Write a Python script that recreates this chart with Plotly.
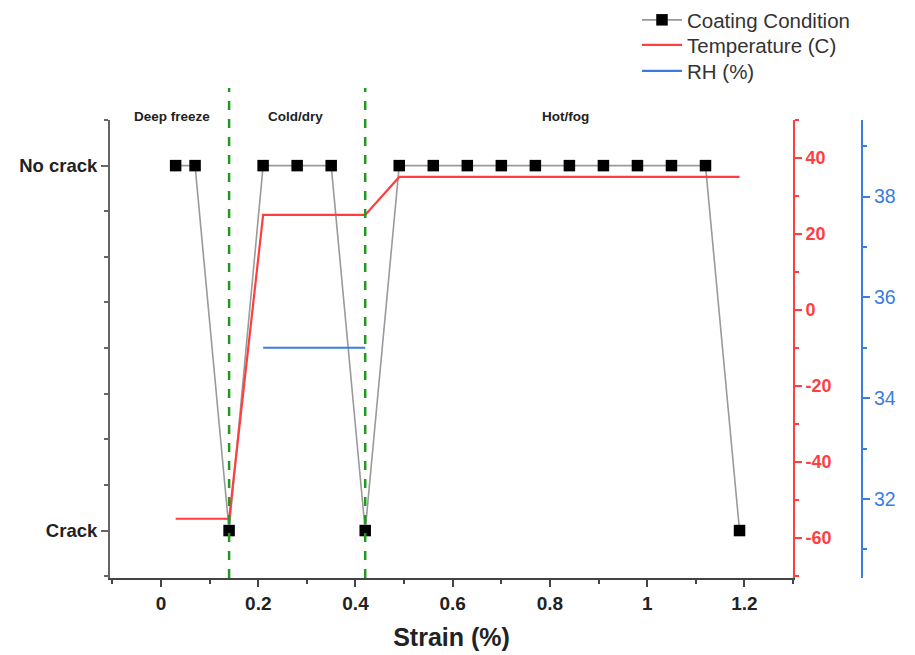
import plotly.graph_objects as go

# ---- data ----
strain = [0.03, 0.07, 0.14, 0.21, 0.28, 0.35, 0.42, 0.49, 0.56, 0.63, 0.70,
          0.77, 0.84, 0.91, 0.98, 1.05, 1.12, 1.19]
condition = [1, 1, 0, 1, 1, 1, 0, 1, 1, 1, 1, 1, 1, 1, 1, 1, 1, 0]  # 1 = No crack, 0 = Crack
cond_labels = ["Crack", "No crack"]

temp_strain = [0.03, 0.14, 0.21, 0.42, 0.49, 1.19]
temp_c = [-55, -55, 25, 25, 35, 35]
temp_ticks = [-60, -40, -20, 0, 20, 40]
temp_ticktext = ["-60", "-40", "-20", "0", "20", "40"]

rh_strain = [0.21, 0.42]
rh_pct = [35, 35]

phase_bounds = [0.14, 0.42]
phase_names = ["Deep freeze", "Cold/dry", "Hot/fog"]
phase_label_x = [0.023, 0.277, 0.832]

# ---- layout geometry (page has an 8px body margin) ----
OFF = 8
W, H = 915 - OFF, 655 - OFF
PL, PR, PT, PB = 110, 880, 120, 578      # page pixels of paper area
ml, mr, mt, mb = PL - OFF, W - (PR - OFF), PT - OFF, H - (PB - OFF)
pw = PR - PL
ph = PB - PT


def px_x(p):
    return (p - PL) / pw


def px_y(p):
    return (PB - p) / ph


x_right = px_x(793)
blue_pos = px_x(862)

FONT = "Liberation Sans, Arial, sans-serif"
RED = "#ff3f3f"
BLUE = "#3a7de0"
GREEN = "#1f9a1f"

fig = go.Figure()

fig.add_trace(go.Scatter(
    x=strain, y=condition, mode="lines+markers", name="Coating Condition",
    line=dict(color="#9a9a9a", width=1.6),
    marker=dict(symbol="square", size=11.5, color="black"),
    yaxis="y", legend="legend"))

fig.add_trace(go.Scatter(
    x=temp_strain, y=temp_c, mode="lines", name="Temperature (C)",
    line=dict(color=RED, width=2.2), yaxis="y2", legend="legend2"))

fig.add_trace(go.Scatter(
    x=rh_strain, y=rh_pct, mode="lines", name="RH (%)",
    line=dict(color=BLUE, width=2.2), yaxis="y3", legend="legend3"))

for xb in phase_bounds:
    fig.add_shape(type="line", xref="x", yref="paper", x0=xb, x1=xb,
                  y0=0, y1=px_y(88),
                  line=dict(color=GREEN, width=2.5, dash="dash"), layer="above")

for name, xl in zip(phase_names, phase_label_x):
    fig.add_annotation(x=xl, xref="x", y=px_y(117), yref="paper",
                       text=name, showarrow=False, xanchor="center", yanchor="middle",
                       font=dict(family=FONT, size=13.5, color="#222", weight="bold"))

minor_left = [i * 0.125 for i in range(-1, 10)]


def leg(row_y):
    return dict(x=px_x(637), y=px_y(row_y), xanchor="left", yanchor="middle",
                font=dict(family=FONT, size=20.5, color="#333"),
                bgcolor="rgba(0,0,0,0)", itemwidth=40)


fig.update_layout(
    width=W, height=H,
    margin=dict(l=ml, r=mr, t=mt, b=mb, autoexpand=False),
    paper_bgcolor="white", plot_bgcolor="white",
    font=dict(family=FONT, color="#222"),
    showlegend=True,
    legend=leg(20), legend2=leg(45), legend3=leg(71),
    xaxis=dict(domain=[0, x_right], range=[-0.105, 1.3], showgrid=False, zeroline=False,
               showline=True, linecolor="#444", linewidth=2, automargin=False,
               ticks="outside", ticklen=7, tickwidth=2, tickcolor="#444",
               tick0=0, dtick=0.2,
               minor=dict(dtick=0.1, tick0=0, ticks="outside", ticklen=4, tickwidth=2, tickcolor="#444"),
               tickfont=dict(family=FONT, size=19, color="#222", weight="bold"),
               title=dict(text="Strain (%)", standoff=16,
                          font=dict(family=FONT, size=25, color="#222", weight="bold"))),
    yaxis=dict(range=[-0.13, 1.125], showgrid=False, zeroline=False, automargin=False,
               showline=True, linecolor="#666", linewidth=2,
               tickvals=[0, 1], ticktext=cond_labels,
               ticks="outside", ticklen=7, tickwidth=2, tickcolor="#666",
               minor=dict(tickvals=minor_left, ticks="outside", ticklen=4, tickwidth=2, tickcolor="#666"),
               tickfont=dict(family=FONT, size=18.5, color="#222", weight="bold")),
    yaxis2=dict(range=[-70.6, 50], overlaying="y", side="right", anchor="x", automargin=False,
                showgrid=False, zeroline=False, showline=True, linecolor=RED, linewidth=2,
                ticks="outside", ticklen=7, tickwidth=2, tickcolor=RED,
                tickvals=temp_ticks, ticktext=temp_ticktext,
                minor=dict(dtick=10, tick0=0, ticks="outside", ticklen=4, tickwidth=2, tickcolor=RED),
                tickfont=dict(family=FONT, size=18, color=RED, weight="bold")),
    yaxis3=dict(range=[30.43, 39.52], overlaying="y", side="right", anchor="free",
                position=blue_pos, automargin=False,
                showgrid=False, zeroline=False, showline=True, linecolor=BLUE, linewidth=2,
                ticks="outside", ticklen=7, tickwidth=2, tickcolor=BLUE,
                tick0=0, dtick=2,
                minor=dict(dtick=1, tick0=0, ticks="outside", ticklen=4, tickwidth=2, tickcolor=BLUE),
                tickfont=dict(family=FONT, size=19.5, color=BLUE)),
)

fig.write_html("out.html")
